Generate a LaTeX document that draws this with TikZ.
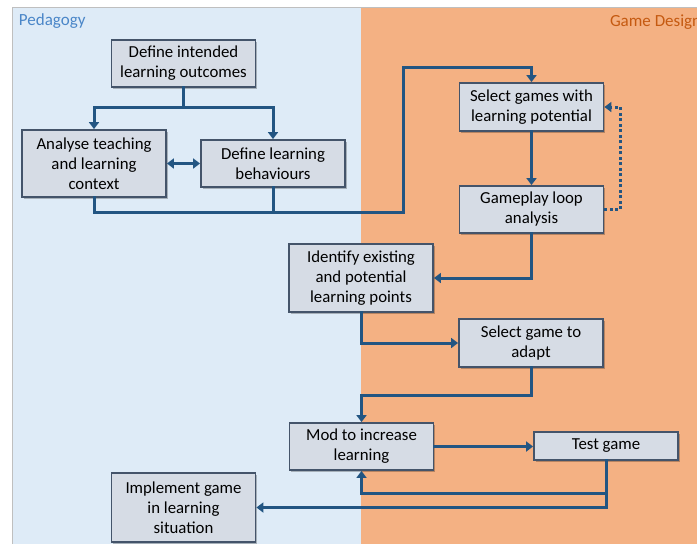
\documentclass[tikz,border=0pt]{standalone}
\usepackage{fontspec}
\setmainfont{Carlito}
\usetikzlibrary{arrows.meta,shadows}
\begin{document}
\begin{tikzpicture}[x=1pt,y=-1pt,line cap=rect,
  stepbox/.style={draw=custcol_44_54_6a, line width=1.8pt, fill=custcol_d6_dc_e5, minimum width=144pt, inner sep=1pt, align=center, font=\fontsize{16.8pt}{20pt}\selectfont, drop shadow={shadow xshift=1.5pt, shadow yshift=-1.5pt, fill=black, opacity=0.25}},
  conn/.style={line width=3.0pt, custcol_22_55_82, -{Triangle[width=10pt,length=7pt]}},
  wire/.style={line width=3.0pt, custcol_22_55_82}]
\definecolor{custcol_de_eb_f7}{RGB}{222, 235, 247}
\definecolor{custcol_f4_b1_83}{RGB}{244, 177, 131}
\definecolor{custcol_bf_bf_bf}{RGB}{191, 191, 191}
\definecolor{custcol_d6_dc_e5}{RGB}{214, 220, 229}
\definecolor{custcol_44_54_6a}{RGB}{68, 84, 106}
\definecolor{custcol_22_55_82}{RGB}{34, 85, 130}
\definecolor{custcol_4a_86_c8}{RGB}{74, 134, 200}
\definecolor{custcol_c5_5a_11}{RGB}{197, 90, 17}
\useasboundingbox [fill=white] (0,0) rectangle (697,544);
\fill [custcol_de_eb_f7]  (12,7) rectangle (361,546);
\fill [custcol_f4_b1_83]  (361,7) rectangle (700,546);
\draw [line width=1.0pt, custcol_bf_bf_bf ]  (12,546) -- (12,7) -- (700,7) ;
\node[inner sep=0, outer sep=0, custcol_4a_86_c8, anchor=base west, font=\fontsize{17pt}{17pt}\selectfont] (pedlabel) at (19.0,25.0) {Pedagogy};
\node[inner sep=0, outer sep=0, custcol_c5_5a_11, anchor=base west, font=\fontsize{17pt}{17pt}\selectfont] (gamelabel) at (610.0,26.0) {Game Design};
\node[stepbox, minimum height=47pt] (outcomes) at (183.5,63.5) {Define intended\\learning outcomes};
\node[stepbox, minimum height=67pt] (context) at (94.0,163.5) {Analyse teaching\\and learning\\context};
\node[stepbox, minimum height=47pt] (behaviours) at (273.0,163.5) {Define learning\\behaviours};
\node[stepbox, minimum height=48pt] (potential) at (531.5,107.0) {Select games with\\learning potential};
\node[stepbox, minimum height=47pt] (loop) at (531.5,209.5) {Gameplay loop\\analysis};
\node[stepbox, minimum height=68pt] (points) at (361.0,278.0) {Identify existing\\and potential\\learning points};
\node[stepbox, minimum height=48pt] (adapt) at (531.0,343.0) {Select game to\\adapt};
\node[stepbox, minimum height=47pt] (mod) at (361.5,446.5) {Mod to increase\\learning};
\node[stepbox, minimum height=28pt] (test) at (606.0,446.0) {Test game};
\node[stepbox, minimum height=69pt] (implement) at (183.5,507.5) {Implement game\\in learning\\situation};
\coordinate (split1) at (183.5,107.0);
\coordinate (join1) at (403.0,212.0);
\coordinate (join2) at (403.0,67.0);
\coordinate (bend3) at (531.0,395.0);
\coordinate (bend4) at (606.0,493.0);
\draw [wire]  (outcomes.south) -- (split1) ;
\draw [conn]  (split1) -| (context.north) ;
\draw [conn]  (split1) -| (behaviours.north) ;
\draw [conn, {Triangle[width=10pt,length=7pt]}-{Triangle[width=10pt,length=7pt]}]  (context.east) -- (behaviours.west) ;
\draw [wire]  (context.south) |- (join1) ;
\draw [wire]  (behaviours.south) -- (behaviours.south |- join1) ;
\draw [conn]  (join1) -- (join2) -| (potential.north) ;
\draw [conn]  (potential.south) -- (loop.north) ;
\draw [conn, line cap=butt, dash pattern=on 3pt off 2.5pt]  (loop.east) -- ++(16,0) |- (potential.east) ;
\draw [conn]  (loop.south) |- (points.east) ;
\draw [conn]  (points.south) |- (adapt.west) ;
\draw [conn]  (adapt.south) -- (bend3) -| (mod.north) ;
\draw [conn]  (mod.east) -- (mod.east -| test.west) ;
\draw [conn]  (test.south) -- (bend4) -| (mod.south) ;
\draw [conn]  (test.south) |- (implement.east) ;
\end{tikzpicture}
\end{document}
